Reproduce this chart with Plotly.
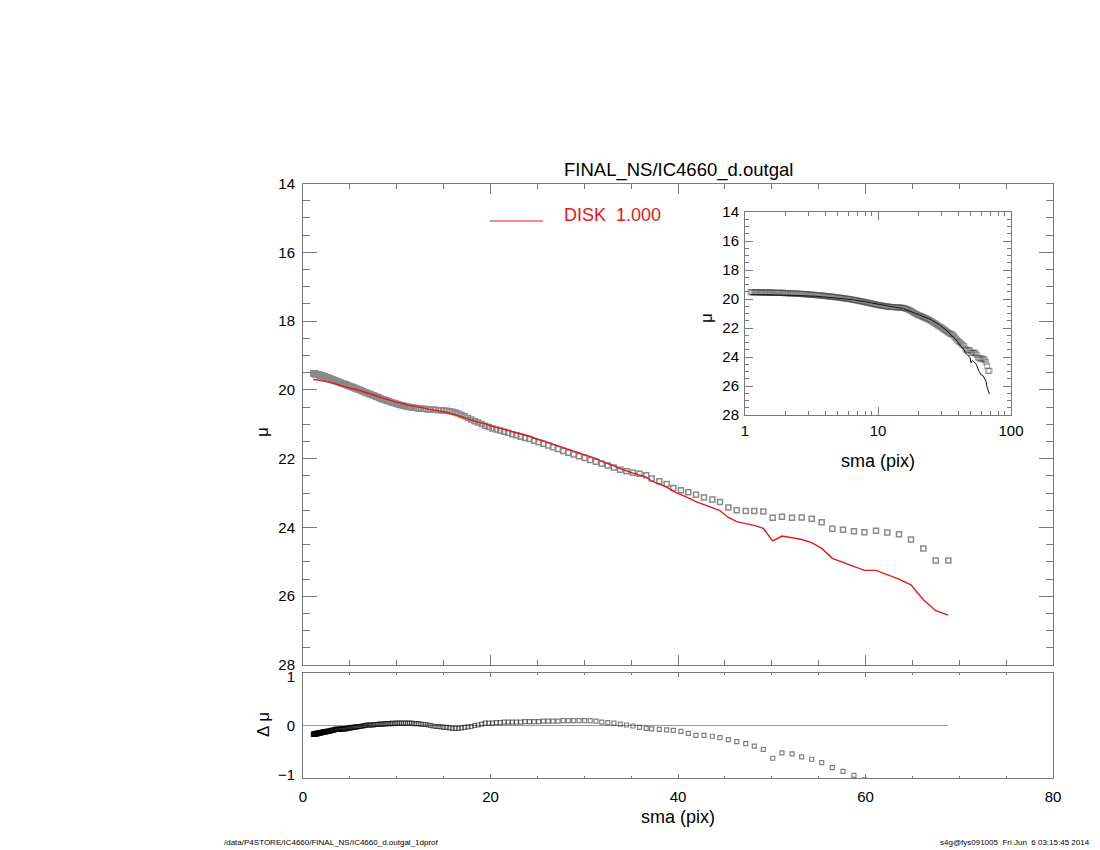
import plotly.graph_objects as go

# ---------------- data ----------------
sma = [
    1.10, 1.12, 1.14, 1.17, 1.19, 1.21, 1.24, 1.26, 1.29, 1.32,
    1.34, 1.37, 1.40, 1.42, 1.45, 1.48, 1.51, 1.54, 1.57, 1.60,
    1.63, 1.67, 1.70, 1.73, 1.77, 1.80, 1.84, 1.88, 1.92, 1.95,
    1.99, 2.03, 2.07, 2.11, 2.16, 2.20, 2.24, 2.29, 2.33, 2.38,
    2.43, 2.48, 2.53, 2.58, 2.63, 2.68, 2.74, 2.79, 2.85, 2.90,
    2.96, 3.02, 3.08, 3.14, 3.20, 3.27, 3.33, 3.40, 3.47, 3.54,
    3.61, 3.68, 3.75, 3.83, 3.91, 3.98, 4.06, 4.15, 4.23, 4.31,
    4.40, 4.49, 4.58, 4.67, 4.76, 4.86, 4.95, 5.05, 5.15, 5.26,
    5.36, 5.47, 5.58, 5.69, 5.81, 5.92, 6.04, 6.16, 6.28, 6.41,
    6.54, 6.67, 6.80, 6.94, 7.08, 7.22, 7.36, 7.51, 7.66, 7.81,
    7.97, 8.13, 8.29, 8.46, 8.63, 8.80, 8.98, 9.15, 9.34, 9.52,
    9.72, 9.91, 10.11, 10.31, 10.52, 10.73, 10.94, 11.16, 11.38, 11.61,
    11.84, 12.08, 12.32, 12.57, 12.82, 13.08, 13.34, 13.60, 13.88, 14.15,
    14.44, 14.72, 15.02, 15.32, 15.63, 15.94, 16.26, 16.58, 16.91, 17.25,
    17.60, 17.95, 18.31, 18.67, 19.05, 19.43, 19.82, 20.21, 20.62, 21.03,
    21.45, 21.88, 22.32, 22.76, 23.22, 23.68, 24.16, 24.64, 25.13, 25.64,
    26.15, 26.67, 27.20, 27.75, 28.30, 28.87, 29.45, 30.04, 30.64, 31.25,
    31.87, 32.51, 33.16, 33.83, 34.50, 35.19, 35.90, 36.61,
    37.19, 38.01, 38.79, 39.50, 40.32, 41.10, 41.92, 42.77, 43.66, 44.48,
    45.37, 46.26, 47.22, 48.14, 49.10, 50.10, 51.09, 52.16, 53.19, 54.26,
    55.33, 56.46, 57.60, 58.77, 59.89, 61.12, 62.33, 63.57, 64.85, 66.17,
    67.49, 68.83,
]

mu_obs = [
    19.52, 19.52, 19.52, 19.52, 19.53, 19.53, 19.53, 19.53, 19.54, 19.54,
    19.54, 19.54, 19.55, 19.55, 19.55, 19.55, 19.55, 19.55, 19.56, 19.56,
    19.56, 19.56, 19.57, 19.57, 19.57, 19.57, 19.58, 19.58, 19.58, 19.58,
    19.59, 19.59, 19.60, 19.60, 19.61, 19.61, 19.62, 19.62, 19.62, 19.62,
    19.63, 19.63, 19.64, 19.64, 19.65, 19.65, 19.66, 19.66, 19.67, 19.67,
    19.68, 19.69, 19.70, 19.70, 19.71, 19.71, 19.72, 19.73, 19.74, 19.74,
    19.75, 19.76, 19.77, 19.77, 19.78, 19.79, 19.80, 19.81, 19.82, 19.82,
    19.83, 19.84, 19.85, 19.86, 19.87, 19.88, 19.89, 19.90, 19.91, 19.92,
    19.93, 19.94, 19.96, 19.97, 19.98, 19.99, 20.00, 20.01, 20.03, 20.04,
    20.06, 20.07, 20.09, 20.10, 20.12, 20.13, 20.15, 20.16, 20.18, 20.20,
    20.21, 20.23, 20.25, 20.27, 20.28, 20.30, 20.32, 20.33, 20.35, 20.37,
    20.38, 20.40, 20.42, 20.43, 20.45, 20.46, 20.48, 20.49, 20.50, 20.51,
    20.52, 20.53, 20.54, 20.55, 20.55, 20.56, 20.57, 20.57, 20.58, 20.58,
    20.59, 20.59, 20.60, 20.61, 20.62, 20.64, 20.66, 20.69, 20.73, 20.77,
    20.82, 20.86, 20.91, 20.95, 20.99, 21.04, 21.08, 21.12, 21.15, 21.18,
    21.22, 21.25, 21.29, 21.32, 21.36, 21.40, 21.43, 21.48, 21.52, 21.57,
    21.62, 21.67, 21.72, 21.78, 21.83, 21.88, 21.93, 21.98, 22.04, 22.09,
    22.15, 22.20, 22.26, 22.32, 22.37, 22.41, 22.44, 22.48,
    22.58, 22.66, 22.74, 22.85, 22.92, 22.98, 23.05, 23.13, 23.19, 23.26,
    23.42, 23.50, 23.52, 23.52, 23.54, 23.72, 23.69, 23.72, 23.71, 23.75,
    23.85, 24.04, 24.07, 24.11, 24.14, 24.10, 24.15, 24.20, 24.35, 24.61,
    24.96, 24.96,
]

mu_disk = [
    19.70, 19.70, 19.70, 19.70, 19.70, 19.70, 19.71, 19.71, 19.71, 19.71,
    19.71, 19.71, 19.71, 19.71, 19.71, 19.71, 19.72, 19.72, 19.72, 19.72,
    19.72, 19.72, 19.72, 19.72, 19.72, 19.72, 19.73, 19.73, 19.73, 19.73,
    19.73, 19.73, 19.74, 19.74, 19.74, 19.74, 19.75, 19.75, 19.75, 19.75,
    19.76, 19.76, 19.76, 19.76, 19.77, 19.77, 19.78, 19.78, 19.78, 19.78,
    19.79, 19.79, 19.80, 19.80, 19.81, 19.81, 19.81, 19.81, 19.82, 19.82,
    19.83, 19.84, 19.85, 19.85, 19.86, 19.86, 19.87, 19.88, 19.89, 19.89,
    19.90, 19.91, 19.92, 19.92, 19.93, 19.93, 19.94, 19.95, 19.96, 19.96,
    19.97, 19.98, 19.99, 20.00, 20.01, 20.01, 20.02, 20.03, 20.04, 20.05,
    20.06, 20.07, 20.08, 20.09, 20.11, 20.12, 20.14, 20.15, 20.16, 20.18,
    20.19, 20.20, 20.22, 20.24, 20.25, 20.26, 20.28, 20.29, 20.31, 20.32,
    20.34, 20.35, 20.37, 20.38, 20.40, 20.41, 20.43, 20.44, 20.45, 20.46,
    20.48, 20.49, 20.50, 20.52, 20.53, 20.54, 20.56, 20.57, 20.59, 20.60,
    20.61, 20.62, 20.64, 20.65, 20.67, 20.70, 20.72, 20.75, 20.78, 20.81,
    20.85, 20.88, 20.91, 20.94, 20.96, 20.99, 21.03, 21.07, 21.09, 21.12,
    21.15, 21.18, 21.22, 21.25, 21.29, 21.32, 21.35, 21.40, 21.44, 21.48,
    21.53, 21.58, 21.63, 21.68, 21.73, 21.78, 21.83, 21.88, 21.94, 22.00,
    22.08, 22.14, 22.21, 22.29, 22.36, 22.42, 22.48, 22.54,
    22.65, 22.74, 22.83, 22.95, 23.04, 23.14, 23.25, 23.33, 23.41, 23.51,
    23.71, 23.83, 23.89, 23.94, 24.03, 24.39, 24.25, 24.30, 24.35, 24.44,
    24.61, 24.90, 25.01, 25.13, 25.25, 25.25, 25.38, 25.50, 25.67, 26.10,
    26.42, 26.55,
]

delta_mu = [o - m for o, m in zip(mu_obs, mu_disk)]

x_ticks_main = [0, 20, 40, 60, 80]
y_ticks_main = [14, 16, 18, 20, 22, 24, 26, 28]
y_ticks_res = [-1, 0, 1]
x_ticks_inset = [1, 10, 100]
x_minor_inset = [2, 3, 4, 5, 6, 7, 8, 9, 20, 30, 40, 50, 60, 70, 80, 90]

title_text = "FINAL_NS/IC4660_d.outgal"
legend_text = "DISK  1.000"
footer_left = "/data/P4STORE/IC4660/FINAL_NS/IC4660_d.outgal_1dprof"
footer_right = "s4g@fys091005  Fri Jun  6 03:15:45 2014"

# ---------------- layout helpers ----------------
W, H = 1100, 850
OFF = 8          # page body margin: the figure is drawn 8 px in from the window corner
FONT = "Liberation Sans, Arial, sans-serif"
FRAME = "#7a7a7a"
RED = "rgb(228,24,28)"


def fx(p):
    return (p - OFF) / W


def fy(p):
    return 1 - (p - OFF) / H


main_x = [fx(303), fx(1053)]
main_y = [fy(665), fy(183.5)]
res_y = [fy(778.3), fy(672.7)]
ins_x = [fx(745), fx(1011)]
ins_y = [fy(415), fy(212)]

fig = go.Figure()

# main panel
fig.add_trace(go.Scatter(
    x=sma, y=mu_obs, mode="markers", xaxis="x", yaxis="y",
    marker=dict(symbol="square-open", size=5, color="#8a8a8a",
                line=dict(width=1.5, color="#8a8a8a")),
    showlegend=False, hoverinfo="skip"))
fig.add_trace(go.Scatter(
    x=sma, y=mu_disk, mode="lines", xaxis="x", yaxis="y",
    line=dict(color=RED, width=1.4), showlegend=False, hoverinfo="skip"))

# residual panel
fig.add_trace(go.Scatter(
    x=[0, sma[-1]], y=[0, 0], mode="lines", xaxis="x2", yaxis="y2",
    line=dict(color="#999999", width=1.2), showlegend=False, hoverinfo="skip"))
fig.add_trace(go.Scatter(
    x=sma, y=delta_mu, mode="markers", xaxis="x2", yaxis="y2",
    marker=dict(symbol="square-open", size=4,
                color="rgba(0,0,0,0.5)",
                line=dict(width=1.2, color="rgba(0,0,0,0.5)")),
    showlegend=False, hoverinfo="skip"))

# inset panel
fig.add_trace(go.Scatter(
    x=sma, y=mu_obs, mode="markers", xaxis="x3", yaxis="y3",
    marker=dict(symbol="square-open", size=5,
                color="rgba(70,70,70,0.4)",
                line=dict(width=1.2, color="rgba(70,70,70,0.4)")),
    showlegend=False, hoverinfo="skip"))
fig.add_trace(go.Scatter(
    x=sma, y=mu_disk, mode="lines", xaxis="x3", yaxis="y3",
    line=dict(color="#111111", width=1), showlegend=False, hoverinfo="skip"))

tickfont = dict(family=FONT, size=15, color="black")
common = dict(showgrid=False, zeroline=False, showline=True, linecolor=FRAME,
              linewidth=1, mirror="ticks", ticks="inside", tickcolor=FRAME,
              tickfont=tickfont, automargin=False)

fig.update_layout(
    width=W, height=H, autosize=False,
    margin=dict(l=0, r=0, t=0, b=0, pad=0, autoexpand=False),
    paper_bgcolor="white", plot_bgcolor="white",
    xaxis=dict(domain=main_x, anchor="y", range=[0, 80],
               tickvals=x_ticks_main, showticklabels=False, ticklen=10,
               minor=dict(dtick=5, tick0=0, ticks="inside", ticklen=5,
                          tickcolor=FRAME),
               **common),
    yaxis=dict(domain=main_y, anchor="x", range=[28, 14],
               tickvals=y_ticks_main, ticklen=14, ticklabelstandoff=4,
               minor=dict(dtick=0.5, tick0=14, ticks="inside", ticklen=7,
                          tickcolor=FRAME),
               **common),
    xaxis2=dict(domain=main_x, anchor="y2", range=[0, 80],
                tickvals=x_ticks_main, ticklen=4, ticklabelstandoff=5,
                minor=dict(dtick=5, tick0=0, ticks="inside", ticklen=2,
                           tickcolor=FRAME),
                **common),
    yaxis2=dict(domain=res_y, anchor="x2", range=[-1.08, 1.08],
                tickvals=y_ticks_res, ticklen=0, ticklabelstandoff=4,
                **common),
    xaxis3=dict(domain=ins_x, anchor="y3", type="log", range=[0, 2],
                tickvals=x_ticks_inset, ticktext=[str(v) for v in x_ticks_inset],
                ticklen=8, ticklabelstandoff=2,
                minor=dict(tickvals=x_minor_inset, ticks="inside", ticklen=4,
                           tickcolor=FRAME),
                **common),
    yaxis3=dict(domain=ins_y, anchor="x3", range=[28, 14],
                tickvals=y_ticks_main, ticklen=8, ticklabelstandoff=2,
                minor=dict(dtick=0.5, tick0=14, ticks="inside", ticklen=4,
                           tickcolor=FRAME),
                **common),
)

ann = [
    dict(text=title_text, x=fx(678), y=fy(170), font=dict(size=18.5)),
    dict(text=legend_text, x=fx(562), y=fy(215), xanchor="left",
         font=dict(size=18, color=RED)),
    dict(text="μ", x=fx(263), y=fy(432), textangle=-90, font=dict(size=17)),
    dict(text="Δ μ", x=fx(263), y=fy(725), textangle=-90, font=dict(size=17)),
    dict(text="sma (pix)", x=fx(678), y=fy(817), font=dict(size=18)),
    dict(text="μ", x=fx(706), y=fy(318), textangle=-90, font=dict(size=17)),
    dict(text="sma (pix)", x=fx(878), y=fy(461), font=dict(size=18)),
    dict(text=footer_left, x=fx(222), y=fy(842), xanchor="left",
         font=dict(size=8)),
    dict(text=footer_right, x=fx(1092), y=fy(842), xanchor="right",
         font=dict(size=8)),
]
for a in ann:
    f = dict(family=FONT, color="black")
    f.update(a.pop("font"))
    fig.add_annotation(xref="paper", yref="paper", showarrow=False,
                       xanchor=a.pop("xanchor", "center"), yanchor="middle",
                       font=f, **a)

fig.add_shape(type="line", xref="paper", yref="paper",
              x0=fx(490), x1=fx(543), y0=fy(221), y1=fy(221),
              line=dict(color=RED, width=1))

fig.write_html("out.html")
